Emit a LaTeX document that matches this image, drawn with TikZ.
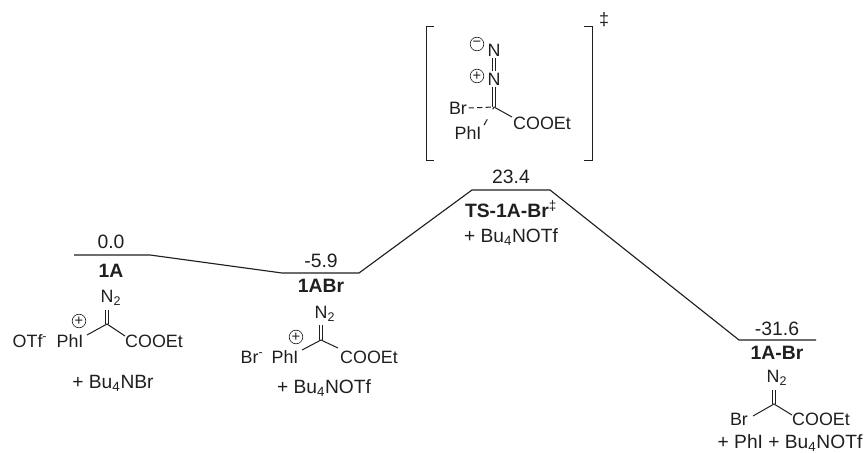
\documentclass[tikz,border=0pt]{standalone}
\usepackage{fontspec}
\setmainfont{Liberation Sans}
\usepackage{tikz}
\usetikzlibrary{positioning}
\definecolor{inkA}{HTML}{1F1F1F}
\tikzset{
  level/.style={draw=inkA, line width=0.85pt},
  energy/.style={text=inkA, inner sep=0pt, font=\fontsize{14.5}{16}\selectfont},
  label/.style={text=inkA, inner sep=0pt, font=\fontsize{14.5}{16}\selectfont\bfseries},
  extra/.style={text=inkA, inner sep=0pt, font=\fontsize{14.4}{16}\selectfont},
  chem/.style={text=inkA, inner sep=1pt, font=\fontsize{13.4}{15}\selectfont},
  charge/.style={draw=inkA, circle, line width=0.45pt, inner sep=0pt, minimum size=10.2pt, text=inkA, font=\fontsize{11}{11}\selectfont},
  bond/.style={draw=inkA, line width=0.75pt},
  dblbond/.style={draw=inkA, line width=0.6pt, double, double distance=1.8pt},
  dashbond/.style={draw=inkA, line width=0.75pt, dash pattern=on 4pt off 2.4pt},
  bracket/.style={draw=inkA, line width=0.75pt}
}
\begin{document}
\begin{tikzpicture}[x=0.75pt, y=-0.75pt]
  \useasboundingbox (0,0) rectangle (868,453);
  \coordinate (a1) at (74,255);
  \coordinate (a2) at (150,255);
  \coordinate (b1) at (282,273);
  \coordinate (b2) at (359,273);
  \coordinate (t1) at (472,190);
  \coordinate (t2) at (550,190);
  \coordinate (d1) at (739,340);
  \coordinate (d2) at (816,340);
  \draw[level] (a1) -- (a2) -- (b1) -- (b2) -- (t1) -- (t2) -- (d1) -- (d2);

  \node[energy] (e1) at (111,242) {0.0};
  \node[energy] (e2) at (321,261) {-5.9};
  \node[energy] (e3) at (511,177) {23.4};
  \node[energy] (e4) at (777,329) {-31.6};
  \node[label] (n1) at (111,271) {1A};
  \node[label] (n2) at (321,286) {1ABr};
  \node[label] (n3) at (511,209) {TS-1A-Br\textsuperscript{\normalfont‡}};
  \node[label] (n4) at (777,353) {1A-Br};

  \coordinate (ca) at (107,324);
  \coordinate (ta) at (107,310);
  \coordinate (la) at (87,335);
  \coordinate (ra) at (125,336);
  \node[chem] (n2a) at (111,298) {N\textsubscript{2}};
  \node[chem] (phia) at (70,341) {PhI};
  \node[chem] (otfa) at (30,341) {OTf\textsuperscript{-}};
  \node[chem] (cooa) at (154,341) {COOEt};
  \node[charge] (pa) at (79,321) {+};
  \node[extra] (xa) at (113,383) {+ Bu\textsubscript{4}NBr};
  \draw[dblbond] (ta) -- (ca);
  \draw[bond] (la) -- (ca) -- (ra);

  \coordinate (cb) at (321,340);
  \coordinate (tb) at (321,325);
  \coordinate (lb) at (302,350);
  \coordinate (rb) at (338,348);
  \node[chem] (n2b) at (325,314) {N\textsubscript{2}};
  \node[chem] (phib) at (285,357) {PhI};
  \node[chem] (brb) at (252,357) {Br\textsuperscript{-}};
  \node[chem] (coob) at (369,357) {COOEt};
  \node[charge] (pb) at (296,337) {+};
  \node[extra] (xb) at (324,388) {+ Bu\textsubscript{4}NOTf};
  \draw[dblbond] (tb) -- (cb);
  \draw[bond] (lb) -- (cb) -- (rb);

  \coordinate (cd) at (774,404);
  \coordinate (td) at (774,390);
  \coordinate (ld) at (753,416);
  \coordinate (rd) at (792,415);
  \node[chem] (n2d) at (777,378) {N\textsubscript{2}};
  \node[chem] (brd) at (739,419) {Br};
  \node[chem] (cood) at (821,419) {COOEt};
  \node[extra] (xd) at (790,443) {+ PhI + Bu\textsubscript{4}NOTf};
  \draw[dblbond] (td) -- (cd);
  \draw[bond] (ld) -- (cd) -- (rd);

  \coordinate (ct) at (494,107);
  \coordinate (rt) at (512,117);
  \coordinate (lt) at (483,127);
  \node[chem] (nt1) at (494,50) {N};
  \node[chem] (nt2) at (494,79) {N};
  \node[chem] (brt) at (458,108) {Br};
  \node[chem] (phit) at (468,133) {PhI};
  \node[chem] (coot) at (542,123) {COOEt};
  \node[charge] (mt) at (477,44) {\raisebox{0.5pt}{−}};
  \node[charge] (pt) at (477,76) {+};
  \node[extra] (xt) at (511,237) {+ Bu\textsubscript{4}NOTf};
  \draw[dblbond] (nt1) -- (nt2);
  \draw[dblbond] (nt2) -- (ct);
  \draw[dashbond] (brt.east) -- (ct);
  \draw[bond] (ct) -- (rt);
  \draw[dashbond, dash pattern=on 2pt off 8.5pt on 5pt off 9pt] (ct) -- (lt);

  \coordinate (l1) at (434,27);
  \coordinate (l2) at (426,27);
  \coordinate (l3) at (426,160);
  \coordinate (l4) at (434,160);
  \coordinate (r1) at (584,27);
  \coordinate (r2) at (592,27);
  \coordinate (r3) at (592,160);
  \coordinate (r4) at (584,160);
  \draw[bracket] (l1) -- (l2) -- (l3) -- (l4);
  \draw[bracket] (r1) -- (r2) -- (r3) -- (r4);
  \node[chem] (dag) at (604,20) {‡};
\end{tikzpicture}
\end{document}
